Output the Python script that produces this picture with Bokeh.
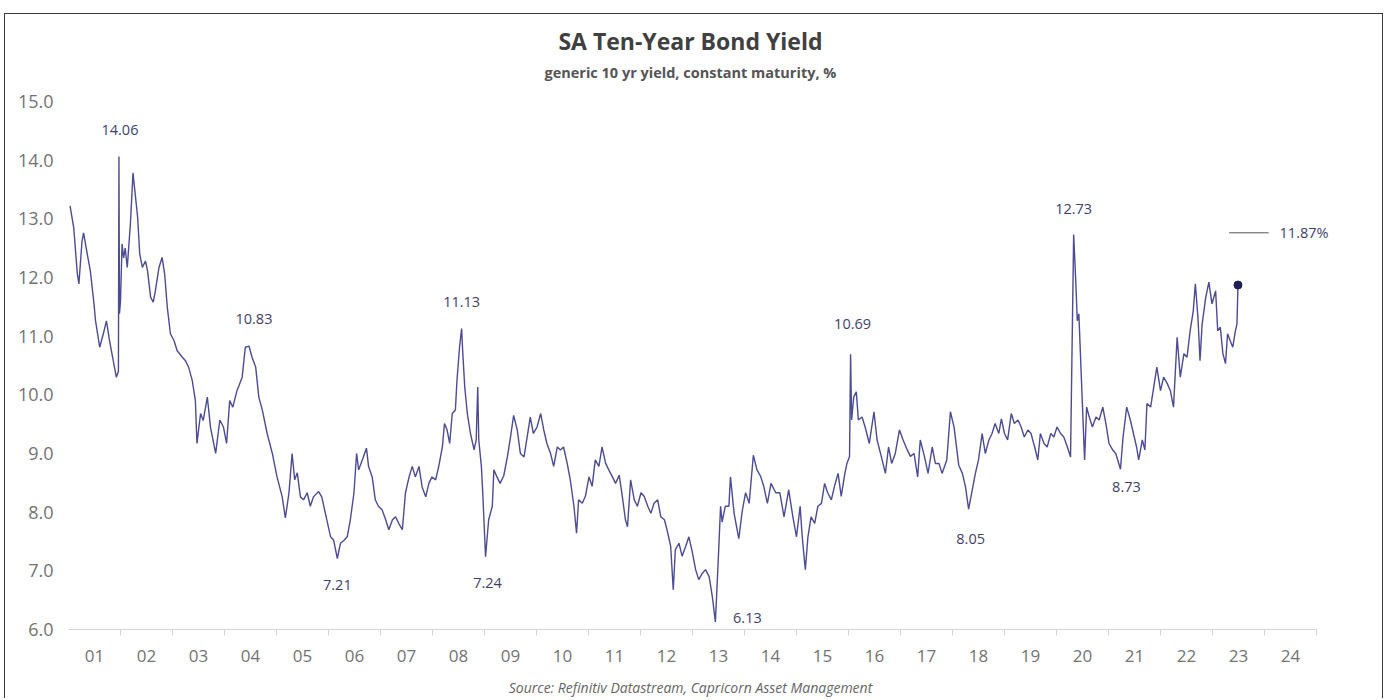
from bokeh.plotting import figure
from bokeh.models import Range1d, FixedTicker, NumeralTickFormatter, ColumnDataSource
from bokeh.core.properties import value
from bokeh.embed import file_html
from bokeh.resources import INLINE

# ---------------- data ----------------
dates = [
    2001.03, 2001.10, 2001.17, 2001.20, 2001.26, 2001.29, 2001.36, 2001.42, 2001.49, 2001.52,
    2001.60, 2001.67, 2001.73, 2001.79, 2001.86, 2001.92, 2001.96, 2001.97, 2001.98, 2002.00,
    2002.03, 2002.06, 2002.09, 2002.13, 2002.19, 2002.24, 2002.29, 2002.33, 2002.37, 2002.42,
    2002.48, 2002.52, 2002.58, 2002.63, 2002.67, 2002.74, 2002.80, 2002.85, 2002.90, 2002.96,
    2003.03, 2003.09, 2003.19, 2003.25, 2003.31, 2003.38, 2003.44, 2003.47, 2003.54, 2003.59,
    2003.67, 2003.73, 2003.83, 2003.91, 2003.98, 2004.04, 2004.10, 2004.16, 2004.24, 2004.34,
    2004.40, 2004.47, 2004.53, 2004.60, 2004.66, 2004.73, 2004.82, 2004.92, 2005.01, 2005.11,
    2005.17, 2005.24, 2005.30, 2005.35, 2005.40, 2005.46, 2005.52, 2005.59, 2005.65, 2005.71,
    2005.81, 2005.87, 2005.94, 2006.04, 2006.10, 2006.17, 2006.23, 2006.30, 2006.36, 2006.42,
    2006.49, 2006.54, 2006.58, 2006.65, 2006.73, 2006.77, 2006.84, 2006.90, 2006.96, 2007.03,
    2007.10, 2007.16, 2007.23, 2007.29, 2007.35, 2007.42, 2007.48, 2007.55, 2007.61, 2007.67,
    2007.74, 2007.80, 2007.87, 2007.93, 2007.99, 2008.06, 2008.12, 2008.19, 2008.23, 2008.28,
    2008.33, 2008.38, 2008.44, 2008.47, 2008.52, 2008.56, 2008.58, 2008.62, 2008.67, 2008.73,
    2008.80, 2008.84, 2008.87, 2008.89, 2008.94, 2008.97, 2009.02, 2009.08, 2009.15, 2009.18,
    2009.24, 2009.30, 2009.37, 2009.44, 2009.50, 2009.56, 2009.63, 2009.69, 2009.76, 2009.82,
    2009.88, 2009.94, 2010.01, 2010.08, 2010.14, 2010.20, 2010.27, 2010.33, 2010.40, 2010.46,
    2010.52, 2010.59, 2010.65, 2010.72, 2010.77, 2010.81, 2010.88, 2010.94, 2011.01, 2011.07,
    2011.13, 2011.20, 2011.26, 2011.33, 2011.39, 2011.46, 2011.52, 2011.59, 2011.65, 2011.71,
    2011.75, 2011.81, 2011.88, 2011.94, 2012.01, 2012.07, 2012.14, 2012.20, 2012.26, 2012.33,
    2012.39, 2012.46, 2012.51, 2012.58, 2012.63, 2012.67, 2012.74, 2012.80, 2012.87, 2012.93,
    2013.00, 2013.06, 2013.12, 2013.19, 2013.25, 2013.32, 2013.38, 2013.44, 2013.49, 2013.54,
    2013.57, 2013.63, 2013.70, 2013.73, 2013.80, 2013.89, 2013.96, 2014.02, 2014.09, 2014.17,
    2014.24, 2014.31, 2014.37, 2014.44, 2014.51, 2014.60, 2014.68, 2014.76, 2014.85, 2014.93,
    2015.00, 2015.07, 2015.11, 2015.17, 2015.22, 2015.28, 2015.35, 2015.41, 2015.48, 2015.54,
    2015.60, 2015.67, 2015.73, 2015.80, 2015.86, 2015.93, 2015.97, 2016.02, 2016.04, 2016.06,
    2016.10, 2016.15, 2016.19, 2016.26, 2016.32, 2016.40, 2016.49, 2016.55, 2016.63, 2016.71,
    2016.77, 2016.83, 2016.90, 2016.98, 2017.05, 2017.13, 2017.19, 2017.26, 2017.33, 2017.38,
    2017.46, 2017.53, 2017.61, 2017.67, 2017.74, 2017.80, 2017.89, 2017.96, 2018.03, 2018.12,
    2018.19, 2018.25, 2018.31, 2018.38, 2018.44, 2018.50, 2018.57, 2018.63, 2018.70, 2018.76,
    2018.82, 2018.89, 2018.94, 2019.00, 2019.06, 2019.13, 2019.19, 2019.26, 2019.32, 2019.38,
    2019.45, 2019.51, 2019.58, 2019.64, 2019.69, 2019.76, 2019.82, 2019.89, 2019.95, 2020.01,
    2020.08, 2020.14, 2020.21, 2020.27, 2020.33, 2020.37, 2020.40, 2020.43, 2020.46, 2020.50,
    2020.54, 2020.58, 2020.63, 2020.69, 2020.76, 2020.82, 2020.89, 2020.95, 2021.01, 2021.08,
    2021.14, 2021.23, 2021.28, 2021.35, 2021.42, 2021.48, 2021.54, 2021.58, 2021.65, 2021.70,
    2021.74, 2021.81, 2021.87, 2021.93, 2022.00, 2022.06, 2022.13, 2022.19, 2022.25, 2022.32,
    2022.38, 2022.45, 2022.51, 2022.57, 2022.63, 2022.67, 2022.72, 2022.76, 2022.80, 2022.87,
    2022.93, 2022.99, 2023.06, 2023.10, 2023.15, 2023.20, 2023.25, 2023.29, 2023.34, 2023.39,
    2023.44, 2023.47, 2023.49,
]

yields = [
    13.22, 12.85, 12.06, 11.89, 12.62, 12.76, 12.40, 12.11, 11.55, 11.26,
    10.81, 11.04, 11.26, 10.92, 10.58, 10.30, 10.40, 14.06, 11.38, 11.60,
    12.57, 12.33, 12.50, 12.17, 12.91, 13.78, 13.36, 13.02, 12.40, 12.17,
    12.28, 12.11, 11.66, 11.58, 11.77, 12.17, 12.34, 12.05, 11.49, 11.04,
    10.92, 10.75, 10.64, 10.58, 10.47, 10.24, 9.90, 9.17, 9.68, 9.56,
    9.96, 9.45, 9.00, 9.57, 9.45, 9.17, 9.90, 9.79, 10.07, 10.30,
    10.81, 10.83, 10.64, 10.47, 9.96, 9.73, 9.34, 9.00, 8.60, 8.26,
    7.90, 8.33, 9.00, 8.55, 8.67, 8.26, 8.21, 8.33, 8.10, 8.26,
    8.35, 8.26, 7.98, 7.58, 7.52, 7.21, 7.47, 7.52, 7.58, 7.87,
    8.33, 9.00, 8.72, 8.89, 9.09, 8.78, 8.60, 8.21, 8.10, 8.04,
    7.87, 7.70, 7.87, 7.92, 7.81, 7.70, 8.33, 8.60, 8.78, 8.60,
    8.78, 8.43, 8.26, 8.49, 8.60, 8.55, 8.78, 9.11, 9.51, 9.40,
    9.17, 9.68, 9.74, 10.24, 10.81, 11.13, 10.75, 10.13, 9.68, 9.34,
    9.06, 9.23, 10.13, 9.23, 8.78, 8.26, 7.24, 7.87, 8.10, 8.72,
    8.60, 8.49, 8.62, 8.94, 9.28, 9.65, 9.40, 9.00, 8.94, 9.28,
    9.62, 9.34, 9.45, 9.68, 9.40, 9.17, 9.00, 8.78, 9.11, 9.06,
    9.11, 8.83, 8.55, 8.10, 7.64, 8.21, 8.15, 8.27, 8.60, 8.44,
    8.89, 8.78, 9.11, 8.83, 8.72, 8.60, 8.49, 8.63, 8.27, 7.87,
    7.75, 8.55, 8.21, 8.10, 8.33, 8.27, 8.10, 7.98, 8.15, 8.21,
    7.92, 7.87, 7.70, 7.42, 6.68, 7.36, 7.47, 7.25, 7.42, 7.58,
    7.30, 7.02, 6.85, 6.96, 7.02, 6.90, 6.57, 6.13, 7.08, 8.10,
    7.83, 8.10, 8.10, 8.60, 7.98, 7.55, 8.04, 8.33, 8.15, 8.97,
    8.72, 8.61, 8.44, 8.15, 8.49, 8.33, 8.33, 7.92, 8.38, 7.92,
    7.58, 8.10, 7.58, 7.02, 7.58, 7.92, 7.81, 8.10, 8.15, 8.49,
    8.33, 8.21, 8.44, 8.66, 8.27, 8.66, 8.83, 8.95, 10.69, 9.57,
    9.96, 10.05, 9.57, 9.62, 9.45, 9.17, 9.71, 9.23, 8.95, 8.66,
    9.11, 8.83, 9.00, 9.40, 9.23, 9.06, 8.95, 9.00, 8.60, 9.23,
    8.95, 8.66, 9.11, 8.83, 8.83, 8.66, 8.89, 9.71, 9.45, 8.80,
    8.66, 8.43, 8.05, 8.38, 8.66, 8.89, 9.34, 9.00, 9.23, 9.34,
    9.51, 9.34, 9.59, 9.34, 9.23, 9.68, 9.51, 9.57, 9.45, 9.28,
    9.40, 9.34, 9.11, 8.89, 9.34, 9.17, 9.11, 9.34, 9.28, 9.45,
    9.34, 9.28, 9.11, 8.94, 12.73, 11.94, 11.26, 11.38, 10.70, 9.79,
    8.89, 9.79, 9.62, 9.45, 9.62, 9.57, 9.79, 9.51, 9.17, 9.06,
    9.00, 8.73, 9.28, 9.79, 9.57, 9.34, 9.11, 8.89, 9.23, 9.06,
    9.85, 9.79, 10.13, 10.47, 10.07, 10.30, 10.19, 10.07, 9.79, 10.98,
    10.30, 10.70, 10.64, 11.09, 11.43, 11.89, 11.32, 10.58, 11.20, 11.66,
    11.92, 11.55, 11.77, 11.09, 11.15, 10.70, 10.53, 11.04, 10.92, 10.81,
    11.09, 11.20, 11.87,
]

# x axis: year boundaries carry ticks, labels sit mid-year
year_starts = list(range(2001, 2026))
year_labels = ["01", "02", "03", "04", "05", "06", "07", "08", "09", "10", "11", "12",
               "13", "14", "15", "16", "17", "18", "19", "20", "21", "22", "23", "24"]
y_ticks = [6.0, 7.0, 8.0, 9.0, 10.0, 11.0, 12.0, 13.0, 14.0, 15.0]

# annotated extremes (date, value)
ann_dates = [2001.97, 2004.47, 2006.17, 2008.56, 2009.02, 2013.44, 2016.04, 2018.31, 2020.33, 2021.23]
ann_values = [14.06, 10.83, 7.21, 11.13, 7.24, 6.13, 10.69, 8.05, 12.73, 8.73]
# pixel offsets of each annotation text relative to its point (style only)
ann_dx = [1, 5, 0, 0, 2, 32, 2, 2, 0, 6]
ann_dy = [-27, -27, 27, -26, 26, -4, -30, 30, -26, 18]

title_text = "SA Ten-Year Bond Yield"
subtitle_text = "generic 10 yr yield, constant maturity, %"
source_text = "Source: Refinitiv Datastream, Capricorn Asset Management"
last_label = "11.87%"

FONT = "Open Sans"
LINE_COL = "#4b4b96"
ANN_COL = "#3f3f6e"
TXT_COL = "#737373"

# frame spans a little beyond the axis span on both sides so that it is centred
X0, X1 = 2000.4615, 2025.4615
Y0, Y1 = 6, 16.48

p = figure(width=1379, height=685, output_backend="svg", toolbar_location=None,
           x_range=Range1d(X0, X1), y_range=Range1d(Y0, Y1),
           min_border_left=35, min_border_right=44, min_border_top=0, min_border_bottom=69)
p.styles = {"border": "1px solid #3a3a3a", "border-bottom": "none",
            "margin-left": "4px", "margin-top": "13px"}
p.outline_line_color = None
p.grid.visible = False
p.background_fill_color = "white"
p.border_fill_color = "white"

# x axis (source line carried as the axis label, centred under the chart)
xa = p.xaxis[0]
xa.bounds = (2001, 2025)
xa.ticker = FixedTicker(ticks=[y + 0.5 for y in year_starts[:-1]], minor_ticks=year_starts[1:])
xa.major_label_overrides = {y + 0.5: lab for y, lab in zip(year_starts[:-1], year_labels)}
xa.axis_line_color = "#d4d4d4"
xa.axis_line_width = 1
xa.major_tick_line_color = None
xa.minor_tick_line_color = "#d4d4d4"
xa.minor_tick_in = 0
xa.minor_tick_out = 6
xa.major_tick_in = 0
xa.major_tick_out = 0
xa.major_label_standoff = 14
xa.major_label_text_font = FONT
xa.major_label_text_font_size = "17px"
xa.major_label_text_color = TXT_COL
xa.axis_label = source_text
xa.axis_label_standoff = 13
xa.axis_label_text_font = FONT
xa.axis_label_text_font_size = "14px"
xa.axis_label_text_font_style = "italic"
xa.axis_label_text_color = "#666666"

# y axis (labels pulled in towards the start of the axis span)
ya = p.yaxis[0]
ya.bounds = (6, 15)
ya.ticker = FixedTicker(ticks=y_ticks)
ya.formatter = NumeralTickFormatter(format="0.0")
ya.axis_line_color = None
ya.major_tick_line_color = None
ya.minor_tick_line_color = None
ya.major_tick_in = 0
ya.major_tick_out = 0
ya.major_label_standoff = -13
ya.major_label_text_font = FONT
ya.major_label_text_font_size = "18px"
ya.major_label_text_color = TXT_COL

# series
p.line(dates, yields, line_color=LINE_COL, line_width=1.4)
p.scatter([dates[-1]], [yields[-1]], size=8, fill_color="#1f1f55", line_color="#1f1f55")

# extreme annotations
src = ColumnDataSource(dict(x=ann_dates, y=ann_values, t=["%.2f" % v for v in ann_values],
                            dx=ann_dx, dy=ann_dy))
p.text(x="x", y="y", text="t", x_offset="dx", y_offset="dy", source=src,
       text_font=value(FONT), text_font_size="14.5px", text_color=ANN_COL,
       text_align="center", text_baseline="middle")

# last value callout
lx, lv = dates[-1], yields[-1]
p.segment(x0=[lx - 0.17], y0=[lv + 0.89], x1=[lx + 0.59], y1=[lv + 0.89],
          line_color="#555555", line_width=1)
p.text(x=[lx + 0.8], y=[lv + 0.89], text=[last_label], text_font=value(FONT),
       text_font_size="14.5px", text_color=ANN_COL, text_align="left", text_baseline="middle")

# title and subtitle (inside the upper part of the frame)
p.text(x=[2012.96], y=[16.03], text=[title_text], text_font=value(FONT),
       text_font_size="23px", text_font_style="bold", text_color="#404040",
       text_align="center", text_baseline="middle")
p.text(x=[2012.96], y=[15.49], text=[subtitle_text], text_font=value(FONT),
       text_font_size="14.5px", text_font_style="bold", text_color="#555555",
       text_align="center", text_baseline="middle")

open("out.html", "w").write(file_html(p, INLINE))
